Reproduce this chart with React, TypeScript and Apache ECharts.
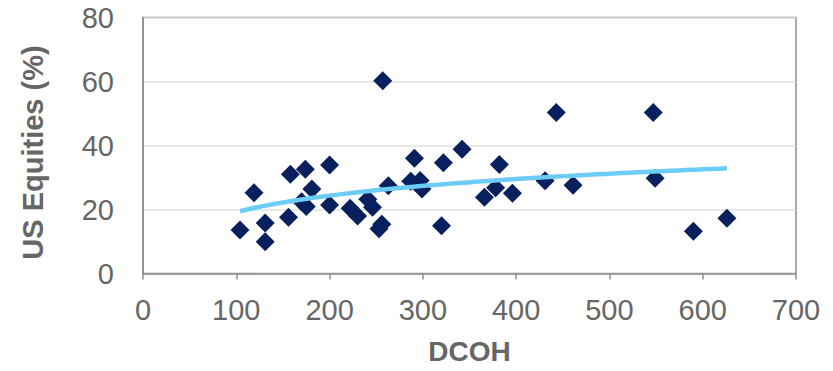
import React, { useEffect, useRef } from "react";
import * as echarts from "echarts";

const dcoh = [104, 119, 131, 131, 156, 158, 174, 170, 175, 181, 200, 200, 222, 230, 241, 246, 253, 256, 257, 263, 287, 291, 297, 299, 320, 322, 342, 366, 378, 382, 396, 431, 443, 461, 547, 549, 590, 626];
const usEquities = [13.6, 25.2, 15.8, 9.9, 17.6, 31, 32.6, 22.4, 20.9, 26.4, 33.9, 21.4, 20.4, 18, 23.2, 20.7, 14, 15.4, 60.2, 27.4, 28.8, 36, 29.1, 26.4, 14.9, 34.6, 38.8, 23.8, 26.8, 34.1, 25.1, 29, 50.3, 27.6, 50.3, 29.8, 13.2, 17.3];
const xTicks = [0, 100, 200, 300, 400, 500, 600, 700];
const yTicks = [0, 20, 40, 60, 80];

// Logarithmic trendline (least squares on ln x), as in the source spreadsheet
function logTrend() {
  const n = dcoh.length;
  const lx = dcoh.map((v) => Math.log(v));
  const mx = lx.reduce((a, b) => a + b, 0) / n;
  const my = usEquities.reduce((a, b) => a + b, 0) / n;
  let sxy = 0, sxx = 0;
  for (let i = 0; i < n; i++) {
    sxy += (lx[i] - mx) * (usEquities[i] - my);
    sxx += (lx[i] - mx) * (lx[i] - mx);
  }
  const a = sxy / sxx;
  const b = my - a * mx;
  const lo = Math.min(...dcoh);
  const hi = Math.max(...dcoh);
  const pts: number[][] = [];
  const steps = 60;
  for (let i = 0; i <= steps; i++) {
    const x = lo + ((hi - lo) * i) / steps;
    pts.push([x, a * Math.log(x) + b]);
  }
  return pts;
}

export default function App() {
  const ref = useRef<HTMLDivElement>(null);
  useEffect(() => {
    if (!ref.current) return;
    const chart = echarts.init(ref.current, undefined, { renderer: "svg" });
    const labelColor = "#666666";
    const axisColor = "#8c8c8c";
    const font = "'Liberation Sans', Arial, sans-serif";
    chart.setOption({
      animation: false,
      backgroundColor: "#ffffff",
      grid: {
        left: 143,
        right: 37,
        top: 17.5,
        bottom: 97.5,
        containLabel: false,
        outerBoundsMode: "none",
        show: true,
        borderColor: axisColor,
        borderWidth: 1.5,
      },
      xAxis: {
        type: "value",
        min: xTicks[0],
        max: xTicks[xTicks.length - 1],
        interval: 100,
        name: "DCOH",
        nameLocation: "middle",
        nameGap: 64,
        nameTextStyle: { fontFamily: font, fontSize: 28, fontWeight: "bold", color: labelColor },
        axisLine: { show: true, lineStyle: { color: axisColor, width: 1.5 } },
        axisTick: { show: true, length: 6, lineStyle: { color: axisColor, width: 1.5 } },
        axisLabel: { fontFamily: font, fontSize: 29, color: labelColor, margin: 22 },
        splitLine: { show: false },
      },
      yAxis: {
        type: "value",
        min: yTicks[0],
        max: yTicks[yTicks.length - 1],
        interval: 20,
        name: "US Equities (%)",
        nameLocation: "middle",
        nameGap: 96,
        nameTextStyle: {
          fontFamily: font,
          fontSize: 29,
          fontWeight: "bold",
          color: labelColor,
          padding: [0, 14, 0, 0],
        },
        axisLine: { show: true, lineStyle: { color: axisColor, width: 1.5 } },
        axisTick: { show: false },
        axisLabel: { fontFamily: font, fontSize: 29, color: labelColor, margin: 29 },
        splitLine: { show: true, lineStyle: { color: "#e0e0e0", width: 1.5 } },
      },
      series: [
        {
          type: "scatter",
          data: dcoh.map((x, i) => [x, usEquities[i]]),
          symbol: "diamond",
          symbolSize: 19,
          itemStyle: { color: "#08205e", opacity: 1 },
          z: 2,
        },
        {
          type: "line",
          data: logTrend(),
          showSymbol: false,
          smooth: false,
          lineStyle: { color: "#6cccf5", width: 4.5 },
          z: 3,
        },
      ],
    });
    return () => chart.dispose();
  }, []);
  return <div ref={ref} style={{ width: 833, height: 371, margin: -8 }} />;
}
